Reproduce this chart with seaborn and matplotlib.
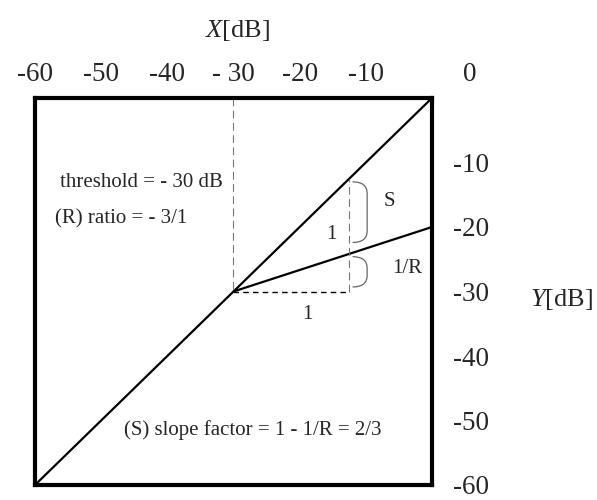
#compressor transfer curve: input X[dB] vs output Y[dB]

import numpy as np
import pandas as pd
import matplotlib
matplotlib.use('Agg')
from matplotlib import pyplot as plt
from matplotlib.path import Path
from matplotlib.patches import PathPatch
import seaborn as sns

#data
diag_x = [-60, 0]
diag_y = [-60, 0]
comp_x = [-30, 0]
comp_y = [-30, -20]
thresh_x = [-30, -30]
thresh_y = [0, -30]
run_x = [-30, -12.5]
run_y = [-30, -30]
rise_x = [-12.5, -12.5]
rise_y = [-30, -12.5]
x_ticks = [-60, -50, -40, -30, -20, -10]
x_tick_labels = ['-60', '-50', '-40', '- 30', '-20', '-10']
y_ticks = [-10, -20, -30, -40, -50, -60]
s_brace = [-13.0, -22.4]
r_brace = [-24.6, -29.3]

sns.set_theme(style="white")
plt.rcParams['font.family'] = ['Liberation Serif', 'DejaVu Serif']
plt.rcParams['mathtext.fontset'] = 'custom'
plt.rcParams['mathtext.it'] = 'Liberation Serif:italic'
plt.rcParams['mathtext.rm'] = 'Liberation Serif'

fig = plt.figure(figsize=(5.97, 5.0), dpi=100)
ax = fig.add_axes([0.0586, 0.03, 0.665, 0.774])

lines = pd.DataFrame({'x': diag_x, 'y': diag_y})
sns.lineplot(data=lines, x='x', y='y', ax=ax, color='black', lw=1.6)
comp = pd.DataFrame({'x': comp_x, 'y': comp_y})
sns.lineplot(data=comp, x='x', y='y', ax=ax, color='black', lw=1.6)

ax.plot(thresh_x, thresh_y, color='#777777', lw=0.8, ls=(0, (7, 4)))
ax.plot(run_x, run_y, color='black', lw=1.0, ls=(0, (4, 3)))
ax.plot(rise_x, rise_y, color='#777777', lw=0.8, ls=(0, (7, 4)))

#right-hand brackets
def brace(ax, x0, yt, yb, w=2.2, r=1.8):
    verts = [(x0, yt), (x0 + w, yt), (x0 + w, yt - r),
             (x0 + w, yb + r), (x0 + w, yb), (x0, yb)]
    codes = [Path.MOVETO, Path.CURVE3, Path.CURVE3,
             Path.LINETO, Path.CURVE3, Path.CURVE3]
    ax.add_patch(PathPatch(Path(verts, codes), fill=False, ec='#666666', lw=0.9))

brace(ax, -12.0, s_brace[0], s_brace[1])
brace(ax, -12.0, r_brace[0], r_brace[1])

fs = 15
ax.text(-7.3, -16.0, 'S', fontsize=fs, ha='left', va='center')
ax.text(-6.0, -26.5, '1/R', fontsize=fs, ha='left', va='center')
ax.text(-15.2, -21.1, '1', fontsize=fs, ha='center', va='center')
ax.text(-18.9, -33.6, '1', fontsize=fs, ha='center', va='center')
ax.text(-56.2, -13.1, 'threshold = - 30 dB', fontsize=fs, ha='left', va='center')
ax.text(-57.0, -18.8, '(R) ratio = - 3/1', fontsize=fs, ha='left', va='center')
ax.text(-46.6, -51.5, '(S) slope factor = 1 - 1/R = 2/3', fontsize=fs,
        ha='left', va='center')

ax.set_xlim(-60, 0)
ax.set_ylim(-60, 0)

ax.xaxis.tick_top()
ax.set_xticks(x_ticks)
ax.set_xticklabels(x_tick_labels)
ax.yaxis.tick_right()
ax.set_yticks(y_ticks)
ax.set_yticklabels([str(v) for v in y_ticks])
ax.tick_params(axis='x', length=0, pad=8, labelsize=19.5)
ax.tick_params(axis='y', length=0, pad=15, labelsize=19.5)
for lab in ax.get_yticklabels():
    lab.set_horizontalalignment('left')
ax.text(1.095, 1.06, '0', transform=ax.transAxes, fontsize=19.5,
        ha='center', va='center')

ax.set_xlabel('')
ax.set_ylabel('')
ax.text(0.51, 1.175, r'$\mathit{X}$[dB]', transform=ax.transAxes, fontsize=19,
        ha='center', va='center')
ax.text(1.247, 0.48, r'$\mathit{Y}$[dB]', transform=ax.transAxes, fontsize=19,
        ha='left', va='center')

for s in ax.spines.values():
    s.set_visible(True)
    s.set_color('black')
    s.set_linewidth(3)

fig.savefig('out.png', dpi=100)
